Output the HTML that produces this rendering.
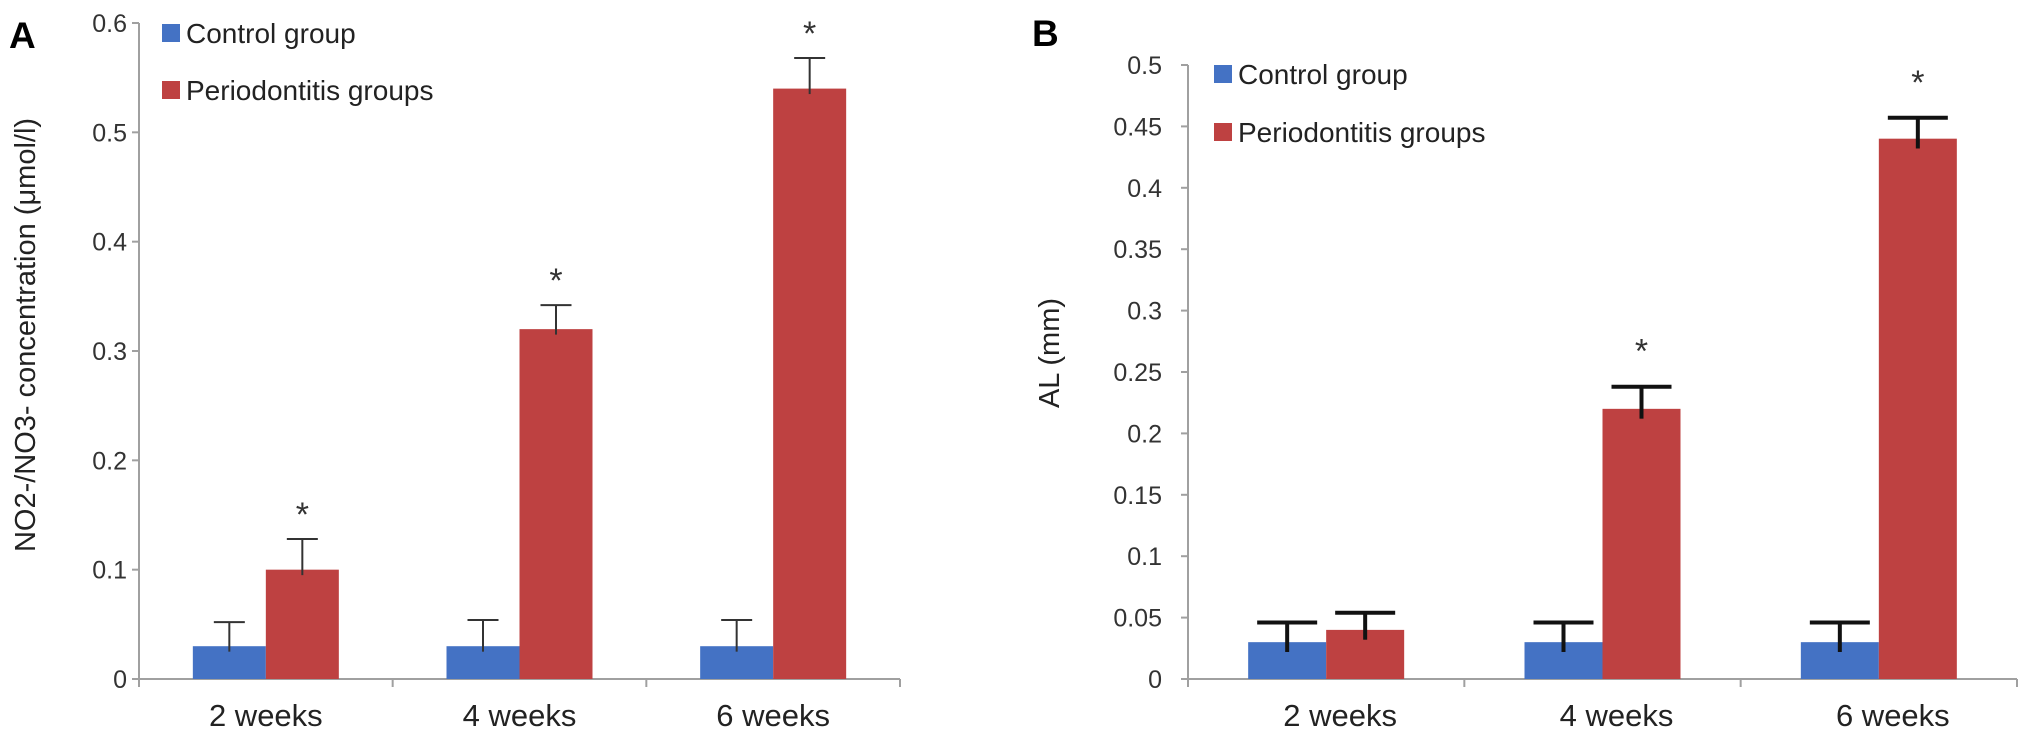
<!DOCTYPE html>
<html><head><meta charset="utf-8"><style>
html,body{margin:0;padding:0;background:#fff;}
svg{display:block;font-family:"Liberation Sans",Arial,sans-serif;}
</style></head><body>
<svg id="fig" width="2031" height="739" viewBox="0 0 2031 739"></svg>
<script>
const categories = ["2 weeks","4 weeks","6 weeks"];
const seriesNames = ["Control group","Periodontitis groups"];
const aControl = [0.03,0.03,0.03];
const aControlErr = [0.022,0.024,0.024];
const aPerio = [0.10,0.32,0.54];
const aPerioErr = [0.028,0.022,0.028];
const aTicks = ["0","0.1","0.2","0.3","0.4","0.5","0.6"];
const bControl = [0.03,0.03,0.03];
const bControlErr = [0.016,0.016,0.016];
const bPerio = [0.04,0.22,0.44];
const bPerioErr = [0.014,0.018,0.017];
const bTicks = ["0","0.05","0.1","0.15","0.2","0.25","0.3","0.35","0.4","0.45","0.5"];
const aStars = [true,true,true];
const bStars = [false,true,true];

const NS="http://www.w3.org/2000/svg";
const svg=document.getElementById('fig');
function mk(tag,attrs,parent,text){const e=document.createElementNS(NS,tag);for(const k in attrs)e.setAttribute(k,attrs[k]);if(text!==undefined)e.textContent=text;(parent||svg).appendChild(e);return e;}

function panel(cfg){
  const g=mk('g',{});
  
  
  const x0=cfg.x0,x1=cfg.x1,y0=679,yT=cfg.yTop,max=cfg.max;
  const ys=v=>y0-(v/max)*(y0-yT);
  const cw=(x1-x0)/categories.length;
  const xs=i=>x0+cw*(i+0.5);
  const ya=mk('line',{x1:x0,y1:y0,x2:x0,y2:yT,stroke:'#a0a0a0','stroke-width':2},g);
  
  const xa=mk('line',{x1:x0,y1:y0,x2:x1,y2:y0,stroke:'#a0a0a0','stroke-width':2},g);
  
  cfg.ticks.forEach(t=>{const v=parseFloat(t);const y=ys(v);
    mk('line',{x1:x0-7,y1:y,x2:x0,y2:y,stroke:'#a0a0a0','stroke-width':2},g);
    const tl=mk('text',{x:x0-cfg.tickGap,y:y+9,'text-anchor':'end','font-size':25,fill:'#333'},g,t);
    
  });
  for(let i=0;i<=categories.length;i++){const x=x0+cw*i;mk('line',{x1:x,y1:y0,x2:x,y2:y0+8,stroke:'#a0a0a0','stroke-width':2},g);}
  categories.forEach((c,i)=>{
    const cl=mk('text',{x:xs(i)+cfg.labelShift,y:726,'text-anchor':'middle','font-size':31,fill:'#222'},g,c);
    
    const bw=cfg.bw;
    const sets=[[cfg.ctrl,cfg.ctrlErr,'#4472c4',xs(i)-bw],[cfg.perio,cfg.perioErr,'#be4141',xs(i)]];
    sets.forEach((s,k)=>{
      const v=s[0][i],e=s[1][i];
      const r=mk('rect',{x:s[3],y:ys(v),width:bw,height:y0-ys(v),fill:s[2]},g);
      
      
      const cx=s[3]+bw/2;
      mk('line',{x1:cx,y1:ys(v-cfg.below),x2:cx,y2:ys(v+e),stroke:cfg.errColor,'stroke-width':cfg.ew},g);
      const cap=mk('line',{x1:cx-cfg.cap/2,y1:ys(v+e),x2:cx+cfg.cap/2,y2:ys(v+e),stroke:cfg.errColor,'stroke-width':cfg.ew},g);
      
      if(k===1&&cfg.stars[i]){const st=mk('text',{x:cx,y:ys(v+e)-cfg.starGap,'text-anchor':'middle','font-size':34,fill:'#333'},g,'*');
        }
    });
  });
  [['#4472c4',seriesNames[0],cfg.leg[1]],['#be4141',seriesNames[1],cfg.leg[2]]].forEach((l,j)=>{
    const lg=mk('g',{},g);
    
    mk('rect',{x:cfg.leg[0],y:l[2]-9,width:18,height:18,fill:l[0]},lg);
    mk('text',{x:cfg.leg[0]+24,y:l[2]+10,'font-size':28,fill:'#222'},lg,l[1]);
  });
  const yl=mk('text',{x:cfg.yl[0],y:cfg.yl[1],'text-anchor':'middle','font-size':29,fill:'#222',transform:`rotate(-90 ${cfg.yl[0]} ${cfg.yl[1]})`,dy:10},g,cfg.ylabel);
  
  const pl=mk('text',{x:cfg.letter[0],y:cfg.letter[1],'font-size':37,'font-weight':'bold',fill:'#000'},g,cfg.letterText);
  
}

panel({name:'panel-a-chart',x0:139,x1:900,yTop:23,max:0.6,ticks:aTicks,tickGap:12,labelShift:0,bw:73,ctrl:aControl,ctrlErr:aControlErr,perio:aPerio,perioErr:aPerioErr,
  errColor:'#333',ew:2,cap:31,below:0.005,stars:aStars,starGap:13,leg:[162,33,90],yl:[25,335],ylabel:'NO2-/NO3- concentration (μmol/l)',letter:[9,48],letterText:'A'});
panel({name:'panel-b-chart',x0:1188,x1:2017,yTop:65,max:0.5,ticks:bTicks,tickGap:26,labelShift:14,bw:78,ctrl:bControl,ctrlErr:bControlErr,perio:bPerio,perioErr:bPerioErr,
  errColor:'#111',ew:4,cap:60,below:0.008,stars:bStars,starGap:24,leg:[1214,74,132],yl:[1049,353],ylabel:'AL (mm)',letter:[1032,46],letterText:'B'});
</script>
</body></html>
